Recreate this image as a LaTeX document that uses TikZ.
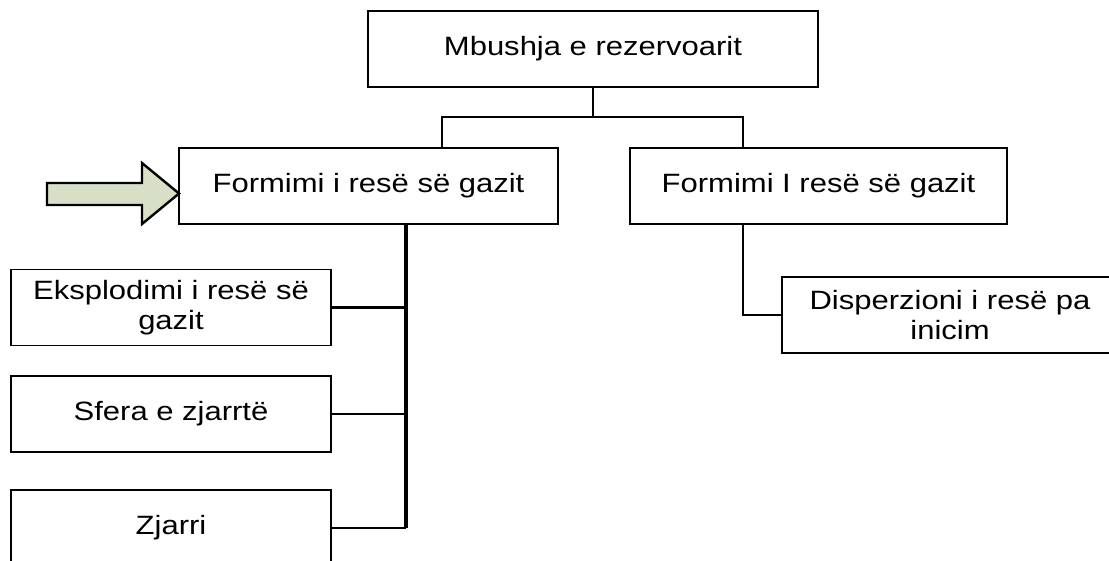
\documentclass[tikz,border=0pt]{standalone}
\usepackage{fontspec}
\setmainfont[FakeStretch=1.17]{Liberation Sans}
\definecolor{arrowfill}{HTML}{D8DFC7}
\begin{document}
\begin{tikzpicture}[x=1pt,y=-1pt,
  box/.style={draw=black, line width=1.8pt, rectangle, minimum height=76pt,
    inner sep=0pt, align=center, font=\fontsize{26.5}{30}\selectfont},
  conn/.style={line width=2.4pt},
  trunk/.style={line width=3.4pt},
  blockarrow/.style={draw=black, line width=2.4pt, fill=arrowfill, line join=miter}]
\useasboundingbox (0,0) rectangle (1109,560);
\clip (0,0) rectangle (1109,560);
\node[box, minimum width=450pt] (top) at (593,49) {Mbushja e rezervoarit};
\node[box, minimum width=379pt] (lm) at (368.5,186) {Formimi i resë së gazit};
\node[box, minimum width=377pt] (rm) at (818.5,186) {Formimi I resë së gazit};
\node[box, minimum width=320pt] (ex) at (171,307.5) {Eksplodimi i resë së\\gazit};
\node[box, minimum width=320pt] (sf) at (171,414) {Sfera e zjarrtë};
\node[box, minimum width=320pt] (zj) at (171,528) {Zjarri};
\node[box, minimum width=336pt] (dp) at (950,315) {Disperzioni i resë pa\\inicim};
% top split
\coordinate (split) at (593,117);
\coordinate (jl) at (442,117);
\coordinate (jr) at (743,117);
\draw[conn] (top.south) -- (split);
\draw[conn] (jl |- lm.north) -- (jl) -- (jr) -- (jr |- rm.north);
% left trunk
\coordinate (tx) at (406,0);
\draw[trunk] (lm.south -| tx) -- (tx |- zj.east);
\draw[conn] (ex.east) -- (ex.east -| tx);
\draw[conn] (sf.east) -- (sf.east -| tx);
\draw[conn] (zj.east) -- (zj.east -| tx);
% right trunk
\coordinate (rx) at (743,0);
\draw[conn] (rm.south -| rx) -- (rx |- dp.west) -- (dp.west);
% block arrow
\coordinate (tip) at (179,193.5);
\draw[blockarrow] (47,183) -- (142,183) -- (142,163) -- (tip) -- (142,224) -- (142,205) -- (47,205) -- cycle;
\end{tikzpicture}
\end{document}
